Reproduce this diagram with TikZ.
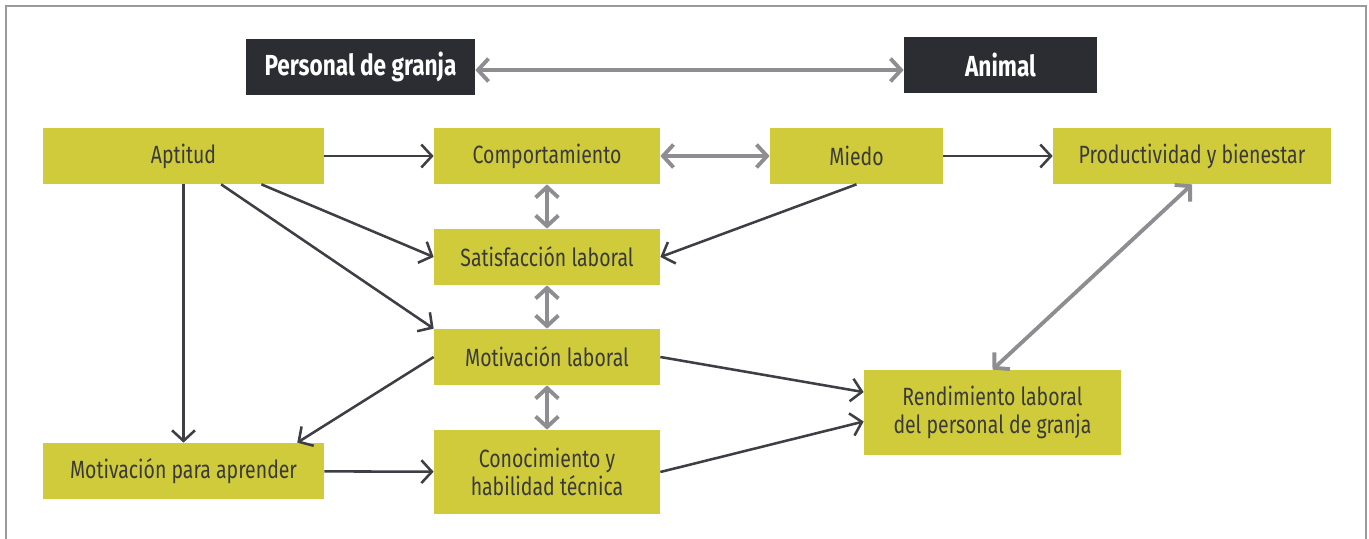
\documentclass[tikz,border=0pt]{standalone}
\usepackage{fontspec}
\setmainfont{Fira Sans}[FakeStretch=0.78]
\usepackage{tikz}
\usetikzlibrary{arrows.meta}

\definecolor{olivebox}{HTML}{CFCB3A}
\definecolor{darkbox}{HTML}{2B2D33}
\definecolor{darkline}{HTML}{3E3F44}
\definecolor{greyline}{HTML}{8E8E92}
\definecolor{frameline}{HTML}{9A9A9A}
\definecolor{boxtext}{HTML}{3A3A3A}

\begin{document}
\begin{tikzpicture}[
		yellowbox/.style={fill=olivebox, text=boxtext, minimum height=1.12cm, align=center, font=\fontsize{14.2}{16}\selectfont, inner sep=2pt},
		darkbox/.style={fill=darkbox, text=white, minimum height=1.12cm, font=\fontsize{16.5}{18}\selectfont\bfseries},
		oneway/.style={-{Straight Barb[length=6pt,width=13pt]}, line width=1.45pt, darkline},
		twoway/.style={{Straight Barb[length=6pt,width=13pt]}-{Straight Barb[length=6pt,width=13pt]}, line width=2.2pt, greyline}
	]
		\useasboundingbox (0,0) rectangle (27.38,-10.76);
		% frame
		\draw[frameline, line width=1pt] (0.12,-10.9) -- (0.12,-0.12) -- (27.32,-0.12) -- (27.32,-10.9);

		% top row
		\node[darkbox, minimum width=4.58cm] (staff) at (7.21,-1.33) {Personal de granja};
		\node[darkbox, minimum width=3.86cm] (animal) at (20.01,-1.30) {Animal};

		% boxes
		\node[yellowbox, minimum width=5.62cm] (aptitud) at (3.67,-3.12) {Aptitud};
		\node[yellowbox, minimum width=4.52cm] (comport) at (10.94,-3.12) {Comportamiento};
		\node[yellowbox, minimum width=3.46cm] (miedo) at (17.13,-3.12) {Miedo};
		\node[yellowbox, minimum width=5.56cm] (prod) at (23.84,-3.12) {Productividad y bienestar};
		\node[yellowbox, minimum width=4.52cm] (satis) at (10.94,-5.14) {Satisfacción laboral};
		\node[yellowbox, minimum width=4.52cm] (motlab) at (10.94,-7.14) {Motivación laboral};
		\node[yellowbox, minimum width=4.52cm, minimum height=1.68cm] (conoc) at (10.94,-9.44) {Conocimiento y\\habilidad técnica};
		\node[yellowbox, minimum width=5.62cm] (motapr) at (3.67,-9.42) {Motivación para aprender};
		\node[yellowbox, minimum width=5.14cm, minimum height=1.70cm] (rend) at (19.85,-8.25) {Rendimiento laboral\\del personal de granja};

		% two-way links
		\draw[twoway] ([yshift=-2pt]staff.east) -- ([yshift=-2pt]staff.east -| animal.west);
		\draw[twoway] (comport) -- (miedo);
		\draw[twoway] (comport) -- (satis);
		\draw[twoway] (satis) -- (motlab);
		\draw[twoway] (motlab) -- (conoc);
		\draw[twoway] (prod.south) -- (rend.north);

		% one-way links
		\draw[oneway] (aptitud) -- (comport);
		\draw[oneway] (miedo) -- (prod);
		\draw[oneway] (aptitud.-20) -- (satis.west);
		\draw[oneway] (aptitud.-37) -- (motlab.north west);
		\draw[oneway] (aptitud) -- (motapr);
		\draw[oneway] (miedo.south) -- (satis.east);
		\draw[oneway] (motlab.west) -- (motapr.14);
		\draw[oneway] (motlab.east) -- (rend.171);
		\draw[oneway] (conoc.east) -- (rend.184);
		\draw[oneway] (motapr) -- (conoc);
	\end{tikzpicture}
\end{document}
